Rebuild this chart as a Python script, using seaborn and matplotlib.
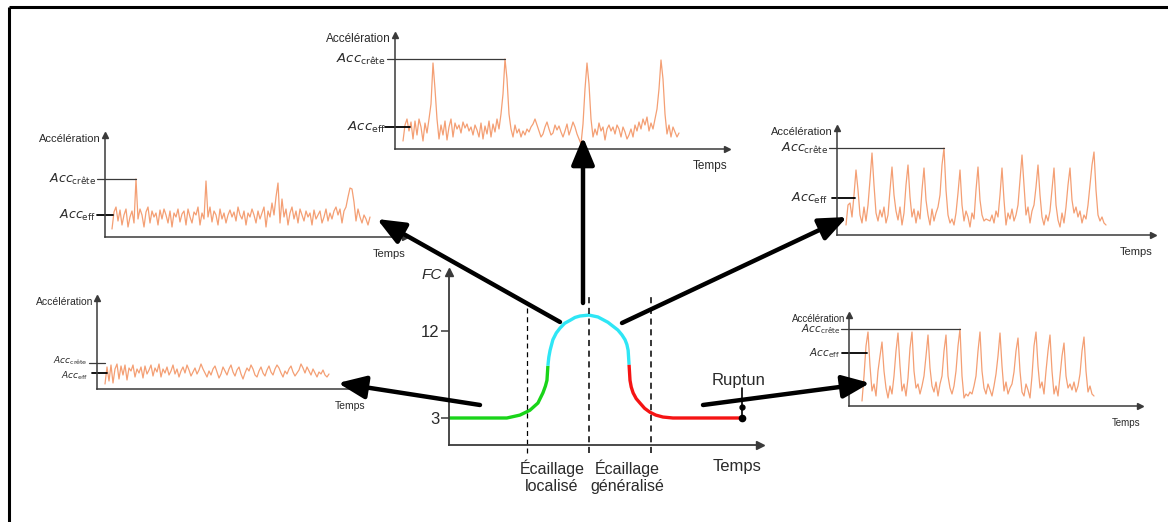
import numpy as np
import pandas as pd
import matplotlib
matplotlib.use("Agg")
import matplotlib.pyplot as plt
import seaborn as sns
from matplotlib import font_manager

# ------------------------------------------------------------------ data
# acceleration signals (arbitrary units)
acc_top_center = [
    8, 24, 30, 18, 27, 10, 28, 14, 30, 22, 8, 26, 16, 30, 45,
    86, 60, 30, 10, 24,
    14, 28, 9, 22, 30, 12, 26, 20, 24, 16, 27, 21, 25, 18, 22, 14, 24, 19, 12, 26,
    10, 23, 15, 28, 12, 25, 17, 30, 20, 35,
    55, 90, 70, 35, 20, 12,
    24, 16, 20, 12, 18, 14, 20, 17, 22, 25, 30, 24, 18, 12, 15, 22, 27, 20, 14, 16,
    24, 19, 23, 17, 12, 18, 25, 14, 20, 27, 22, 15, 10, 5,
    25, 60, 86, 65, 30, 12, 20,
    14, 26, 18, 22, 9, 20, 24, 18, 22, 15, 24, 20, 12, 22, 17, 10, 14, 20, 12, 24,
    18, 27, 20, 30, 24, 32, 18, 26, 20, 30, 40,
    60, 89, 70, 35, 15, 24,
    12, 22, 17, 12, 16,
]
acc_top_left = [
    8, 25, 30, 16, 27, 12, 22, 28, 10, 20, 26, 14,
    58,
    18, 28, 22, 10, 25, 30, 14, 26, 20, 24, 12, 27, 18, 28, 22, 14, 26, 10, 24, 20,
    28, 15, 23, 26, 12, 28, 20, 14, 25, 22, 30, 12, 24, 18,
    56,
    20, 30, 15, 26, 22, 12, 28, 18, 24, 14, 22, 27, 20, 25, 16, 30, 22, 18, 26, 12,
    24, 20, 28, 22, 14, 26, 18, 24, 30, 10, 26, 20, 34, 22, 40,
    54,
    14, 38, 20, 28, 12, 24, 30, 18, 26, 14, 28, 22, 16, 26, 20, 24, 12, 27, 18, 22,
    26, 14, 20, 28, 16, 24, 18, 26, 30, 22, 28, 14, 26, 30,
    40, 49, 48, 35, 16, 28, 20, 14, 22, 18, 12, 20,
]
acc_top_right = [
    10, 30, 32, 18, 40, 65, 45, 20, 12, 28, 14, 30, 55, 82, 50,
    22, 14, 25, 18, 28, 12, 20, 45, 68, 40, 24, 15, 28, 10, 22,
    50, 70, 38, 18, 26, 12, 24, 16, 45, 67, 35, 20, 10, 26, 14, 22, 28,
    40, 70, 87, 45, 20, 12, 16, 10, 22, 42, 65, 30, 14, 24, 18, 8, 22, 16,
    45, 68, 35, 20, 14, 16, 15, 14, 20, 12, 24, 18, 40, 67, 35,
    10, 22, 16, 26, 14, 20, 30, 55, 80, 50, 20, 28, 12, 24, 30,
    48, 70, 40, 18, 10, 20, 14, 24, 45, 67, 30, 15, 8, 22, 12, 28,
    50, 67, 35, 22, 28, 18, 24, 12, 20, 16, 30, 50, 70, 83, 45,
    20, 14, 18, 12, 10,
]
acc_bottom_left = [
    5, 22, 8, 24, 6, 20, 25, 10, 23, 14, 24, 9, 21, 18, 24, 12, 20, 16, 22, 11,
    23, 15, 19, 24, 13, 21, 17, 25, 12, 20,
    16, 22, 14, 18, 24, 15, 20, 12, 18, 22, 16, 24, 19, 13, 17, 21, 15, 19, 25, 20,
    16, 12, 18, 14, 20, 23, 17, 11, 15, 22, 18, 14, 20, 24, 17, 13, 19, 22, 15, 10,
    16, 21, 18, 24, 20, 14, 12, 18, 22, 16, 13, 19, 23, 17, 14, 20, 24, 21, 16, 12,
    18, 15, 20, 23, 17, 13, 16, 19, 25, 21, 16, 22, 18, 14, 20, 16, 12, 17, 15, 19,
    14, 12, 15,
]
acc_bottom_right = [
    5, 30, 60, 74, 40, 15, 22, 10, 35, 50, 64, 35, 18, 8, 20, 12, 30,
    55, 73, 40, 15, 22, 10, 28, 58, 74, 35, 18, 22, 12, 20, 30,
    50, 71, 38, 20, 14, 24, 10, 22, 30, 55, 71, 30, 18, 12, 20, 35,
    60, 77, 30, 8, 12, 10, 14, 12, 20, 30, 55, 74, 35, 18, 12, 22, 16, 10, 20, 32,
    50, 73, 40, 15, 24, 12, 18, 22, 34, 55, 68, 35, 14, 10, 22, 16, 8, 30,
    60, 74, 40, 18, 24, 12, 35, 55, 71, 35, 12, 20, 10, 30, 50, 63, 30,
    18, 22, 16, 24, 14, 20, 32, 55, 69, 35, 14, 20, 12, 10,
]
# reference levels (same units)
acc_eff = {"tc": 22, "tl": 22, "tr": 37, "bl": 16, "br": 53}
acc_crete_bl = 26

# heart-rate (FC) curve, time in arbitrary units (0-100)
fc_t_green = [0, 18.6, 22.8, 26.0, 28.6, 30.2, 31.0, 31.5, 31.8]
fc_v_green = [3, 3, 3.3, 3.8, 4.55, 5.6, 6.3, 6.9, 8.4]
fc_t_cyan = [31.8, 32.1, 32.5, 33.4, 34.5, 35.7, 37.2, 38.9, 40.5, 42.1, 45.0,
             47.9, 51.1, 54.3, 55.6, 56.6, 57.2, 57.6, 57.9]
fc_v_cyan = [8.4, 9.3, 10.0, 11.1, 11.8, 12.3, 12.8, 13.1, 13.4, 13.55, 13.65,
             13.45, 12.9, 12.1, 11.6, 11.1, 10.6, 10.0, 8.5]
fc_t_red = [57.9, 58.2, 58.6, 59.2, 60.2, 61.4, 62.9, 64.6, 66.5, 68.8, 72.0, 94.2]
fc_v_red = [8.5, 6.9, 6.2, 5.6, 5.0, 4.55, 4.0, 3.6, 3.3, 3.1, 3.0, 3.0]
fc_ticks = [3, 12]
phase_bounds = [25.1, 45.0, 65.0]
phase_labels = ["Écaillage\nlocalisé", "Écaillage\ngénéralisé"]
phase_label_t = [33.1, 57.2]
rupture_t = 94.2
rupture_fc = 3.0

# ------------------------------------------------------------------ style
sns.set_style("white")
avail = {f.name for f in font_manager.fontManager.ttflist}
NARROW = "Liberation Sans Narrow" if "Liberation Sans Narrow" in avail else "Liberation Sans"
plt.rcParams["font.family"] = ["Liberation Sans", "DejaVu Sans"]

W, H = 1168, 522
SP = 2.0                 # pixels per sample in the small panels
SIG = "#f49f74"
AX = "#3a3a3a"
TXT = "#2a2a2a"

fig = plt.figure(figsize=(W / 100, H / 100), dpi=100)
fig.patch.set_facecolor("white")


def px_axes(x0, y0, xe, yt):
    return fig.add_axes([x0 / W, 1 - y0 / H, (xe - x0) / W, (y0 - yt) / H])


def axis_arrows(ax, lw=1.1, ms=4.5):
    for s in ("top", "right"):
        ax.spines[s].set_visible(False)
    for s in ("left", "bottom"):
        ax.spines[s].set_color(AX)
        ax.spines[s].set_linewidth(lw)
    ax.plot([1], [0], marker=">", color=AX, ms=ms, transform=ax.transAxes, clip_on=False)
    ax.plot([0], [1], marker="^", color=AX, ms=ms, transform=ax.transAxes, clip_on=False)
    ax.set_xticks([])
    ax.set_yticks([])
    ax.set_xlabel("")
    ax.set_ylabel("")
    ax.patch.set_alpha(0)


def signal_panel(values, key, x0, y0, xe, yt, xs, crest=None, fs=8, fs_acc=9,
                 eff_left=6, eff_right=14, lab_sep=0):
    ax = px_axes(x0, y0, xe, yt)
    df = pd.DataFrame({"t": np.arange(len(values)), "acc": values})
    sns.lineplot(data=df, x="t", y="acc", ax=ax, color=SIG, lw=0.9)
    xl = ((x0 - xs) / SP, (xe - xs) / SP)
    ax.set_xlim(*xl)
    ax.set_ylim(0, y0 - yt)
    axis_arrows(ax)
    # crest level
    if crest is None:
        crest = max(values)
        xend = int(np.argmax(values))
    else:
        xend = xl[0] + 8 / SP
    ax.plot([xl[0] - 8 / SP, xend], [crest, crest], color=AX, lw=0.9, clip_on=False)
    ax.text(xl[0] - 9 / SP, crest + lab_sep, r"$\mathit{Acc}_{\mathrm{crête}}$",
            ha="right", va="center", fontsize=fs_acc, color=TXT)
    eff = acc_eff[key]
    ax.plot([xl[0] - eff_left / SP, xl[0] + eff_right / SP], [eff, eff], color="black",
            lw=1.3, clip_on=False)
    ax.text(xl[0] - 9 / SP, eff - lab_sep, r"$\mathit{Acc}_{\mathrm{eff}}$", ha="right",
            va="center", fontsize=fs_acc, color=TXT)
    ax.annotate("Accélération", xy=(0, 1), xycoords="axes fraction", xytext=(-4, -4),
                textcoords="offset pixels", ha="right", va="center", fontsize=fs,
                color=TXT)
    ax.annotate("Temps", xy=(1, 0), xycoords="axes fraction", xytext=(0, -17),
                textcoords="offset pixels", ha="right", va="center", fontsize=fs,
                color=TXT)
    return ax


signal_panel(acc_top_center, "tc", 395, 149, 727, 35, 403, fs=8.5, fs_acc=9.5,
             eff_left=10, eff_right=15)
signal_panel(acc_top_left, "tl", 105, 237, 405, 135, 112, eff_left=8, eff_right=8)
signal_panel(acc_top_right, "tr", 837, 235, 1153, 128, 846, eff_left=5, eff_right=18)
signal_panel(acc_bottom_left, "bl", 97, 389, 365, 298, 105, crest=acc_crete_bl,
             fs=7.5, fs_acc=6.5, eff_left=5, eff_right=10, lab_sep=2.5)
signal_panel(acc_bottom_right, "br", 849, 406, 1140, 315, 862, fs=7, fs_acc=7.5,
             eff_left=7, eff_right=18)

# ------------------------------------------------------------------ FC panel
fx0, fy0, fxe, fyt = 449, 445, 760, 272
axf = px_axes(fx0, fy0, fxe, fyt)
for tt, vv, col in ((fc_t_green, fc_v_green, "#19d419"),
                    (fc_t_cyan, fc_v_cyan, "#2ee6f5"),
                    (fc_t_red, fc_v_red, "#f51414")):
    sns.lineplot(x=tt, y=vv, ax=axf, color=col, lw=2.4, sort=False,
                 estimator=None, solid_capstyle="butt")
axf.set_xlim(0, 100)
px_per_fc = (418 - 331) / 9.0
axf.set_ylim(3 - (fy0 - 418) / px_per_fc, 3 + (418 - fyt) / px_per_fc)
axis_arrows(axf, lw=1.3, ms=6)
axf.set_yticks(fc_ticks)
axf.set_yticklabels([str(v) for v in fc_ticks], fontsize=12, family=NARROW)
axf.tick_params(axis="y", direction="out", length=6, width=1.1, color=AX, pad=1,
                left=True, labelcolor=TXT)
for i, b in enumerate(phase_bounds):
    top = 14.5 if i == 0 else 15.5
    axf.plot([b, b], [-0.62, top], color="black", lw=0.9 if i == 0 else 1.1,
             ls=(0, (4, 3)), clip_on=False)
for lab, tx in zip(phase_labels, phase_label_t):
    axf.text(tx, -3.1, lab, ha="center", va="center", fontsize=11.5, family=NARROW,
             linespacing=1.2, color=TXT)
axf.annotate("Temps", xy=(1, 0), xycoords="axes fraction", xytext=(2, -22),
             textcoords="offset pixels", ha="right", va="center", fontsize=12,
             family=NARROW, color=TXT)
axf.annotate("FC", xy=(0, 1), xycoords="axes fraction", xytext=(-7, -3),
             textcoords="offset pixels", ha="right", va="center", fontsize=11,
             family=NARROW, style="italic", color=TXT)
axf.plot([rupture_t, rupture_t], [rupture_fc, rupture_fc + 3.1], color="black", lw=1.2,
         clip_on=False)
axf.plot([rupture_t], [rupture_fc], "o", color="black", ms=4.5, clip_on=False)
axf.plot([rupture_t], [rupture_fc + 1.1], "o", color="black", ms=3.5, clip_on=False)
axf.text(rupture_t - 1, rupture_fc + 3.9, "Ruptun", ha="center", va="center",
         fontsize=12, family=NARROW, color=TXT)

# ------------------------------------------------------------------ overlay
ov = fig.add_axes([0, 0, 1, 1])
ov.set_xlim(0, W)
ov.set_ylim(H, 0)
ov.axis("off")
ov.patch.set_alpha(0)
ov.plot([9, 9], [7, H], color="black", lw=2.2, solid_capstyle="butt")
ov.plot([9, W], [7, 7], color="black", lw=2.2, solid_capstyle="butt")
arrows = [((560, 322), (377, 219)),
          ((583, 303), (583, 137)),
          ((622, 323), (847, 217)),
          ((480, 405), (338, 383)),
          ((703, 405), (870, 383))]
for start, end in arrows:
    ov.annotate("", xy=end, xytext=start,
                arrowprops=dict(arrowstyle="-|>,head_length=1.2,head_width=0.5",
                                mutation_scale=14, lw=3.2, color="black",
                                shrinkA=0, shrinkB=0))

fig.savefig("out.png", dpi=100, facecolor="white")
